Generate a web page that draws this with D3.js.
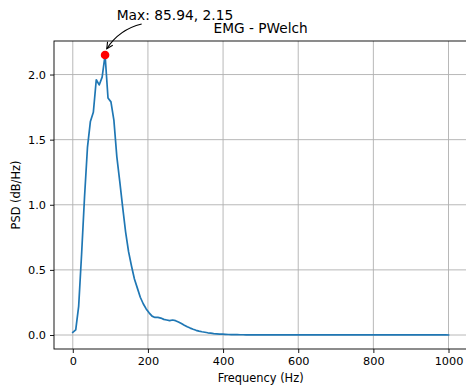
<!DOCTYPE html>
<html>
<head>
<meta charset="utf-8">
<script src="https://cdn.jsdelivr.net/npm/d3@7"></script>
<style>
  html, body { margin: 0; padding: 0; background: #fff; }
  svg { display: block; }
  text { font-family: "DejaVu Sans", sans-serif; fill: #000; }
</style>
</head>
<body>
<svg id="chart" width="466" height="387"></svg>
<script>
// ---- data ----
const title = "EMG - PWelch";
const xLabel = "Frequency (Hz)";
const yLabel = "PSD (dB/Hz)";
const freqStep = 7.8125; // Welch frequency resolution (Hz)
const psdValues = [
  0.02, 0.04, 0.22, 0.62, 1.06, 1.44, 1.64, 1.71, 1.96, 1.92,
  1.98, 2.15, 1.82, 1.79, 1.65, 1.37, 1.18, 0.98, 0.79, 0.64,
  0.53, 0.43, 0.36, 0.29, 0.24, 0.20, 0.17, 0.145, 0.135, 0.135,
  0.13, 0.12, 0.115, 0.11, 0.115, 0.11, 0.10, 0.088, 0.075, 0.063,
  0.053, 0.044, 0.036, 0.030, 0.025, 0.021, 0.017, 0.014, 0.011, 0.009,
  0.007, 0.006, 0.005, 0.004, 0.0035, 0.003, 0.0025, 0.002, 0.0018, 0.0016,
  0.0015, 0.0014, 0.0014, 0.0013, 0.0013, 0.0012, 0.0012, 0.0011, 0.0011, 0.0010,
  0.0010, 0.0010, 0.0009, 0.0009, 0.0009, 0.0008, 0.0008, 0.0008, 0.0008, 0.0007,
  0.0007, 0.0007, 0.0007, 0.0007, 0.0006, 0.0006, 0.0006, 0.0006, 0.0006, 0.0006,
  0.0005, 0.0005, 0.0005, 0.0005, 0.0005, 0.0005, 0.0005, 0.0005, 0.0004, 0.0004,
  0.0004, 0.0004, 0.0004, 0.0004, 0.0004, 0.0004, 0.0004, 0.0004, 0.0004, 0.0003,
  0.0003, 0.0003, 0.0003, 0.0003, 0.0003, 0.0003, 0.0003, 0.0003, 0.0003, 0.0003,
  0.0003, 0.0003, 0.0003, 0.0003, 0.0003, 0.0003, 0.0003, 0.0003, 0.0002
];
const maxPoint = { freq: 85.94, psd: 2.15 };
const xTicks = [0, 200, 400, 600, 800, 1000];
const yTicks = [0.0, 0.5, 1.0, 1.5, 2.0];

const data = psdValues.map((v, i) => ({ f: i * freqStep, v }));

// ---- layout ----
const svg = d3.select("#chart");
const L = 54, R = 467.3, T = 41, B = 349;

const x = d3.scaleLinear().domain([-50, 1050]).range([L, R]);
const y = d3.scaleLinear().domain([-0.1075, 2.2575]).range([B, T]);

// grid
const grid = svg.append("g");
grid.selectAll(".gx").data(xTicks).join("line")
  .attr("x1", d => x(d)).attr("x2", d => x(d))
  .attr("y1", T).attr("y2", B)
  .attr("stroke", "#b0b0b0").attr("stroke-width", 0.9);
grid.selectAll(".gy").data(yTicks).join("line")
  .attr("x1", L).attr("x2", R)
  .attr("y1", d => y(d)).attr("y2", d => y(d))
  .attr("stroke", "#b0b0b0").attr("stroke-width", 0.9);

// line
svg.append("path")
  .datum(data)
  .attr("fill", "none")
  .attr("stroke", "#1f77b4")
  .attr("stroke-width", 1.7)
  .attr("stroke-linejoin", "round")
  .attr("stroke-linecap", "square")
  .attr("d", d3.line().x(d => x(d.f)).y(d => y(d.v)));

// axes
const xAxis = svg.append("g")
  .attr("transform", `translate(0,${B})`)
  .call(d3.axisBottom(x).tickValues(xTicks).tickFormat(d3.format("d")).tickSize(4).tickSizeOuter(0).tickPadding(4));
const yAxis = svg.append("g")
  .attr("transform", `translate(${L},0)`)
  .call(d3.axisLeft(y).tickValues(yTicks).tickFormat(d3.format(".1f")).tickSize(4).tickSizeOuter(0).tickPadding(4));
[xAxis, yAxis].forEach(a => {
  a.select(".domain").remove();
  a.selectAll(".tick line").attr("stroke", "#000").attr("stroke-width", 0.9);
  a.selectAll(".tick text").attr("font-family", "DejaVu Sans").attr("font-size", 11.3).attr("fill", "#000");
});

// spines
svg.append("rect")
  .attr("x", L).attr("y", T).attr("width", R - L).attr("height", B - T)
  .attr("fill", "none").attr("stroke", "#000").attr("stroke-width", 0.9);

// labels
svg.append("text").attr("x", (L + R) / 2).attr("y", 381.5)
  .attr("text-anchor", "middle").attr("font-size", 11.4).text(xLabel);
svg.append("text")
  .attr("transform", `translate(19.5,${(T + B) / 2}) rotate(-90)`)
  .attr("text-anchor", "middle").attr("font-size", 11.4).text(yLabel);
svg.append("text").attr("x", (L + R) / 2).attr("y", 33.3)
  .attr("text-anchor", "middle").attr("font-size", 13.7).text(title);

// max marker
const px = x(maxPoint.freq), py = y(maxPoint.psd);
svg.append("circle").attr("cx", px).attr("cy", py).attr("r", 4.3).attr("fill", "#ff0000");

// annotation
svg.append("text").attr("x", px + 11.6).attr("y", py - 35.3)
  .attr("font-size", 13.8)
  .text(`Max: ${maxPoint.freq.toFixed(2)}, ${maxPoint.psd.toFixed(2)}`);

const S = [px + 36.6, py - 31], E = [px + 1.7, py - 6.3], C = [px + 14.2, py - 25.6];
svg.append("path")
  .attr("d", `M${S[0]},${S[1]} Q${C[0]},${C[1]} ${E[0]},${E[1]}`)
  .attr("fill", "none").attr("stroke", "#000").attr("stroke-width", 1.1);
const dx = E[0] - C[0], dy = E[1] - C[1], len = Math.hypot(dx, dy);
const ux = dx / len, uy = dy / len, hl = 6.2, hw = 3.1;
svg.append("path")
  .attr("d", `M${E[0] - hl * ux - hw * uy},${E[1] - hl * uy + hw * ux} L${E[0]},${E[1]} L${E[0] - hl * ux + hw * uy},${E[1] - hl * uy - hw * ux}`)
  .attr("fill", "none").attr("stroke", "#000").attr("stroke-width", 1.1);
</script>
</body>
</html>
